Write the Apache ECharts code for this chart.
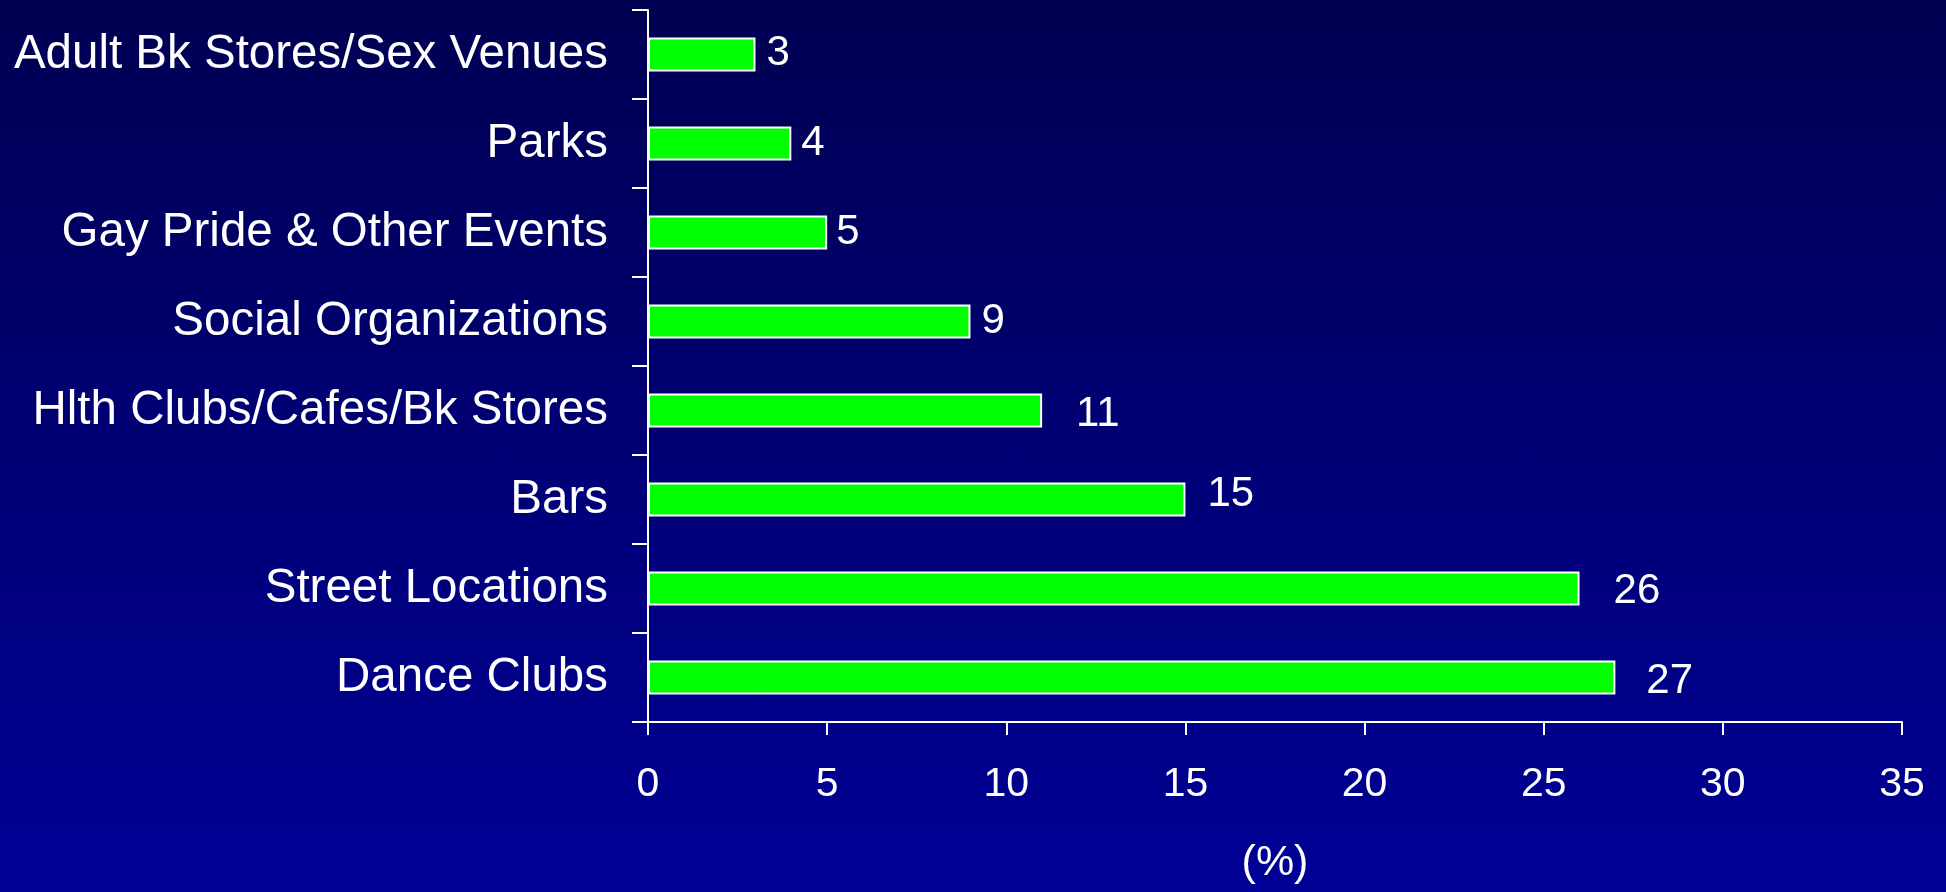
<!DOCTYPE html>
<html>
<head>
<meta charset="utf-8">
<script src="https://cdn.jsdelivr.net/npm/echarts@6/dist/echarts.min.js"></script>
<style>
  html, body { margin: 0; padding: 0; }
  #chart {
    width: 1946px; height: 892px;
    background: linear-gradient(to bottom, #000052 0%, #00006e 40%, #000096 100%);
  }
</style>
</head>
<body>
<div id="chart"></div>
<script>
// Venue categories, listed from the bottom bar upward
const categories = [
  'Dance Clubs',
  'Street Locations',
  'Bars',
  'Hlth Clubs/Cafes/Bk Stores',
  'Social Organizations',
  'Gay Pride & Other Events',
  'Parks',
  'Adult Bk Stores/Sex Venues'
];
// Share of respondents (%)
const values = [27, 26, 15, 11, 9, 5, 4, 3];
// Value axis ticks
const axisMin = 0, axisMax = 35, axisStep = 5;

// Value labels sit at slightly different distances from their bars
const labelDistance = [31, 34, 22, 34, 11, 9, 10, 11];
const labelShiftY = [4, 3, -5, 4, 0, 0, 0, -1];

const FONT = "'Liberation Sans', Arial, sans-serif";

const chart = echarts.init(document.getElementById('chart'));
chart.setOption({
  backgroundColor: 'transparent',
  animation: false,
  grid: { left: 648, right: 44, top: 10, bottom: 170, containLabel: false },
  xAxis: {
    type: 'value',
    min: axisMin, max: axisMax, interval: axisStep,
    name: '(%)',
    nameLocation: 'middle',
    nameGap: 120,
    nameTextStyle: { color: '#ffffff', fontSize: 43, fontFamily: FONT },
    axisLine: { show: true, lineStyle: { color: '#ffffff', width: 2 } },
    axisTick: { show: true, length: 13, lineStyle: { color: '#ffffff', width: 2 } },
    axisLabel: { color: '#ffffff', fontSize: 41, fontFamily: FONT, margin: 42 },
    splitLine: { show: false }
  },
  yAxis: {
    type: 'category',
    data: categories,
    axisLine: { show: true, lineStyle: { color: '#ffffff', width: 2 } },
    axisTick: { show: true, length: 16, lineStyle: { color: '#ffffff', width: 2 } },
    axisLabel: { color: '#ffffff', fontSize: 47.5, fontFamily: FONT, margin: 40 },
    splitLine: { show: false }
  },
  series: [{
    type: 'bar',
    barWidth: 34,
    data: values.map((v, i) => ({
      value: v,
      label: { distance: labelDistance[i], offset: [0, labelShiftY[i]] }
    })),
    itemStyle: { color: '#00ff00', borderColor: '#ffffff', borderWidth: 2 },
    label: {
      show: true,
      position: 'right',
      color: '#ffffff',
      fontSize: 42,
      fontFamily: FONT
    }
  }]
});
</script>
</body>
</html>
